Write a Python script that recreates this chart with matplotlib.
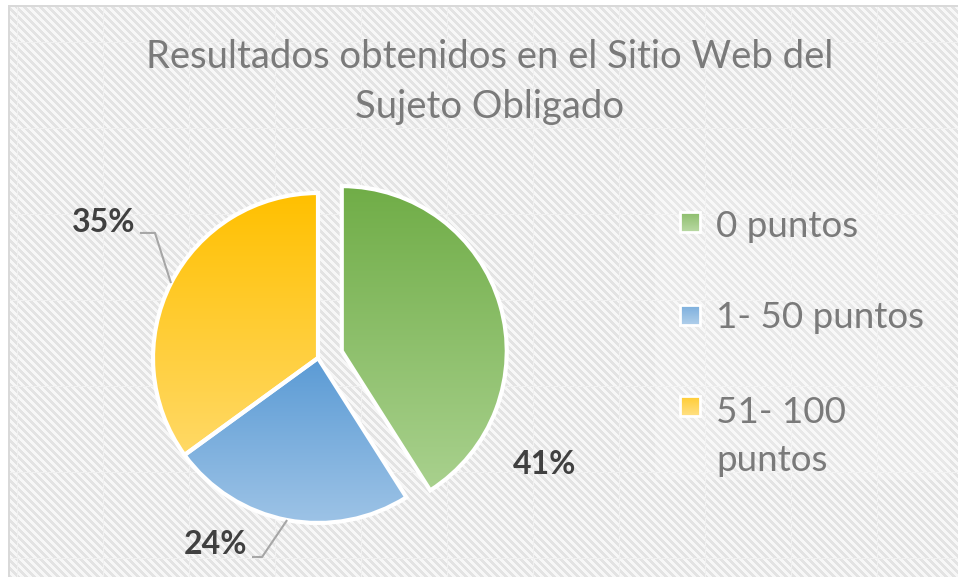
import numpy as np
import matplotlib
matplotlib.use('Agg')
import matplotlib.pyplot as plt
from matplotlib.colors import LinearSegmentedColormap
from matplotlib.patches import Rectangle

# ---------------- data ----------------
categories = ['0 puntos', '1- 50 puntos', '51- 100\npuntos']
values = [41, 24, 35]
pct_labels = ['41%', '24%', '35%']
title = 'Resultados obtenidos en el Sitio Web del\nSujeto Obligado'

# ---------------- style ----------------
top_colors = ['#70AD47', '#5B9BD5', '#FFC000']
bottom_colors = ['#A9D18E', '#9DC3E6', '#FFD966']
FONT = ['Lato', 'DejaVu Sans']

W, H = 958, 577
fig = plt.figure(figsize=(W / 100, H / 100), dpi=100)

# background: diagonal stripes, faint seams, border top/left
yy, xx = np.mgrid[0:H, 0:W]
pat = np.where(((xx - yy) % 8) < 4, 0.89, 0.965)
pat[((xx - 103) % 86) == 0] = 0.94
pat[((yy - 42) % 86) == 0] = 0.94
pat[yy < 5] = 1.0
pat[xx < 8] = 1.0
pat[(yy >= 5) & (yy < 7) & (xx >= 8)] = 0.85
pat[(xx >= 8) & (xx < 10) & (yy >= 5)] = 0.85
bg = fig.add_axes([0, 0, 1, 1])
bg.imshow(pat, cmap='gray', vmin=0, vmax=1, aspect='auto', interpolation='nearest')
bg.axis('off')

# legend backdrop (slightly lighter)
fig.patches.append(Rectangle((655 / W, 1 - 480 / H), 295 / W, 290 / H,
                             transform=fig.transFigure, facecolor='white',
                             alpha=0.2, edgecolor='none', zorder=1))

# ---------------- pie ----------------
R = 165.0
cx, cy = 318.0, 577 - 358.0
L = 1.6
ax = fig.add_axes([(cx - L * R) / W, (cy - L * R) / H, 2 * L * R / W, 2 * L * R / H])
ax.patch.set_alpha(0)
wedges, _ = ax.pie(values, startangle=90, counterclock=False,
                   explode=[0.15, 0, 0], radius=1.0,
                   wedgeprops=dict(linewidth=3, edgecolor='white'))

for w, c0, c1 in zip(wedges, top_colors, bottom_colors):
    ext = w.get_path().get_extents()
    grad = np.linspace(0, 1, 256).reshape(-1, 1)
    cmap = LinearSegmentedColormap.from_list('g', [c0, c1])
    im = ax.imshow(grad, cmap=cmap, extent=(ext.x0, ext.x1, ext.y0, ext.y1),
                   origin='upper', aspect='auto', zorder=1, interpolation='bilinear')
    im.set_clip_path(w)
    w.set_facecolor('none')
    w.set_zorder(2)

ax.set_xlim(-L, L)
ax.set_ylim(-L, L)
ax.axis('off')

# percentage labels
label_pos = [(1.376, -0.648), (-0.624, -1.133), (-1.297, 0.824)]
leader = {1: [(-0.339, -1.206), (-0.40, -1.206)],
          2: [(-0.988, 0.758), (-1.079, 0.758)]}
for i, (w, lab) in enumerate(zip(wedges, pct_labels)):
    ax.text(*label_pos[i], lab, ha='center', va='center', fontsize=23,
            fontweight='bold', color='#404040', family=FONT, zorder=5)
    if i in leader:
        mid = np.deg2rad((w.theta1 + w.theta2) / 2)
        cxw, cyw = w.center
        p0 = (cxw + w.r * np.cos(mid), cyw + w.r * np.sin(mid))
        pts = [p0] + leader[i]
        ax.plot([p[0] for p in pts], [p[1] for p in pts], color='#a6a6a6',
                lw=1.5, zorder=4, solid_capstyle='butt')

# ---------------- title ----------------
fig.text(490 / W, 1 - 82 / H, title, ha='center', va='center', fontsize=27.5,
         color='#7a7a7a', family=FONT, fontweight='normal', linespacing=1.48, zorder=5)

# ---------------- legend ----------------
last_baselines = [237, 328, 471]
square_centers = [222, 315, 406]
lax = fig.add_axes([0, 0, 1, 1])
lax.set_xlim(0, W)
lax.set_ylim(H, 0)
lax.axis('off')
lax.patch.set_alpha(0)
for lab, bl, sc, c0, c1 in zip(categories, last_baselines, square_centers, top_colors, bottom_colors):
    s = 20
    rect = Rectangle((690 - s / 2, sc - s / 2), s, s, facecolor='none',
                     edgecolor='white', lw=2, zorder=3)
    lax.add_patch(rect)
    cmap = LinearSegmentedColormap.from_list('g', [c0, c1])
    lax.imshow(np.linspace(0, 1, 64).reshape(-1, 1), cmap=cmap,
               extent=(690 - s / 2, 690 + s / 2, sc + s / 2, sc - s / 2),
               aspect='auto', zorder=2)
    lax.text(716, bl, lab, ha='left', va='baseline', fontsize=26.5,
             color='#595959', family=FONT, linespacing=1.55, zorder=5)
lax.set_xlim(0, W)
lax.set_ylim(H, 0)

fig.savefig('out.png', dpi=100)
